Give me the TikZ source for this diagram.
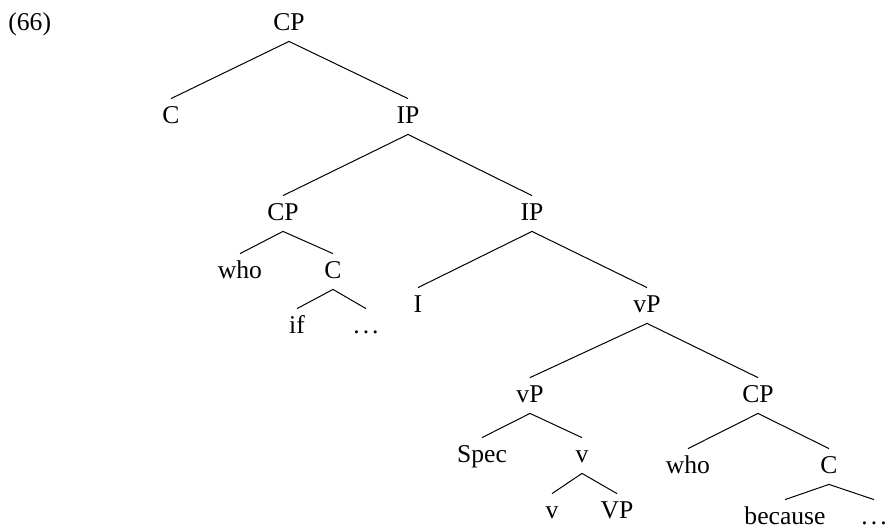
\documentclass[tikz,border=0pt]{standalone}
\usepackage{fontspec}
\setmainfont{Liberation Serif}
\newcommand{\tdots}{.\hspace{0.12em}.\hspace{0.12em}.}
\begin{document}
\begin{tikzpicture}[x=0.5pt,y=-0.5pt,
  lbl/.style={anchor=base,font=\rmfamily\fontsize{12.8}{15}\selectfont,text height=8.5pt,text depth=2pt,inner xsep=0pt,inner ysep=3.5pt},
  br/.style={line width=0.5pt}]
\useasboundingbox (0,0) rectangle (885,527);
\node[lbl,anchor=base west] (ex) at (8,30) {(66)};
% top of the tree
\node[lbl] (cpA) at (289,30) {CP};
\node[lbl] (cA) at (171,123) {C};
\node[lbl] (ipA) at (408,123) {IP};
\node[lbl] (cpB) at (283,220) {CP};
\node[lbl] (ipB) at (532,220) {IP};
\node[lbl] (whoA) at (240,278) {who};
\node[lbl] (cB) at (333,278) {C};
\node[lbl] (ifA) at (297,333) {if};
\node[lbl] (dotsA) at (366,333) {\tdots};
\node[lbl] (iA) at (418,312) {I};
\node[lbl] (vpA) at (647,312) {vP};
% lower part
\node[lbl] (vpB) at (530,402) {vP};
\node[lbl] (cpC) at (758,402) {CP};
\node[lbl] (spec) at (482,462) {Spec};
\node[lbl] (vA) at (582,462) {v};
\node[lbl] (vB) at (552,518) {v};
\node[lbl] (vpC) at (617,518) {VP};
\node[lbl] (whoB) at (688,473) {who};
\node[lbl] (cC) at (829,473) {C};
\node[lbl] (bec) at (785,524) {because};
\node[lbl] (dotsB) at (874,524) {\tdots};
\foreach \p/\c in {cpA/cA,cpA/ipA,ipA/cpB,ipA/ipB,cpB/whoA,cpB/cB,cB/ifA,cB/dotsA,
  ipB/iA,ipB/vpA,vpA/vpB,vpA/cpC,vpB/spec,vpB/vA,vA/vB,vA/vpC,cpC/whoB,cpC/cC,cC/bec,cC/dotsB}
  \draw[br] (\p.south) -- (\c.north);
\end{tikzpicture}
\end{document}
